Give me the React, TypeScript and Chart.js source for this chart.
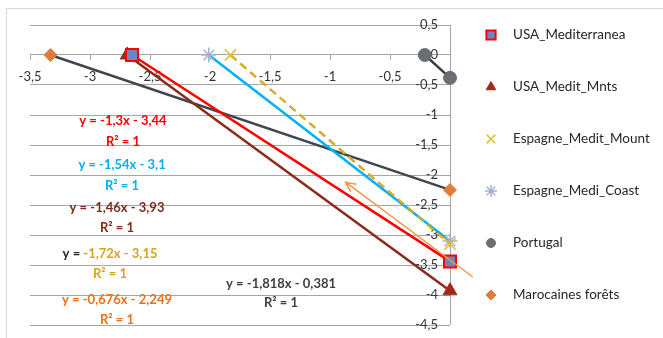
import React, { useEffect, useRef } from 'react';
import { Chart, registerables } from 'chart.js';
import { drawPoint } from 'chart.js/helpers';

Chart.register(...registerables);

// ---- data ----
const SERIES_NAMES = [
  'USA_Mediterranea',
  'USA_Medit_Mnts',
  'Espagne_Medit_Mount',
  'Espagne_Medi_Coast',
  'Portugal',
  'Marocaines forêts',
];
const USA_MED_X = [-2.65, 0];
const USA_MED_Y = [0, -3.44];
const USA_MNTS_X = [-2.69, 0];
const USA_MNTS_Y = [0, -3.93];
const ESP_MOUNT_X = [-1.83, 0];
const ESP_MOUNT_Y = [0, -3.15];
const ESP_COAST_X = [-2.01, 0];
const ESP_COAST_Y = [0, -3.1];
const PORTUGAL_X = [-0.21, 0];
const PORTUGAL_Y = [0, -0.381];
const MAROC_X = [-3.33, 0];
const MAROC_Y = [0, -2.249];

const X_TICK_LABELS = ['-3,5', '-3', '-2,5', '-2', '-1,5', '-1', '-0,5', '0'];
const Y_TICK_LABELS = ['-4,5', '-4', '-3,5', '-3', '-2,5', '-2', '-1,5', '-1', '-0,5', '0', '0,5'];

const EQUATIONS = [
  'y = -1,3x - 3,44',
  'y = -1,54x - 3,1',
  'y = -1,46x - 3,93',
  'y = -1,72x - 3,15',
  'y = -0,676x - 2,249',
  'y = -1,818x - 0,381',
];
const R2_TEXT = 'R² = 1';

// ---- annotation layout (data units) ----
const EQ_POS_X = [-2.725, -2.733, -2.775, -2.833, -2.775, -1.408];
const EQ_POS_Y = [-1.1, -1.833, -2.55, -3.317, -4.083, -3.817];
const R2_POS_Y = [-1.45, -2.183, -2.883, -3.65, -4.417, -4.133];
const EQ_COLORS = ['#ff0000', '#00b0f0', '#7f2a1a', '#d4a520', '#e9711c', '#404040'];
const ARROW_FROM = [0.19, -3.7];
const ARROW_TO = [-0.87, -2.12];
const Y_LABEL_ANCHOR = -0.1; // y tick labels end a little left of the x=0 axis line

const pts = (xs: number[], ys: number[]) => xs.map((x, i) => ({ x, y: ys[i] }));

const STYLES = [
  { line: '#ff0000', ps: 'rect', r: 8.5, lr: 6.5, bg: '#6f84c2', bd: '#ff0000', bw: 2, dash: [] as number[] },
  { line: '#8b2a18', ps: 'triangle', r: 8, lr: 5.5, bg: '#a3281a', bd: '#a3281a', bw: 1, dash: [] },
  { line: '#d4ac2a', ps: 'crossRot', r: 8, lr: 6, bg: '#e2b92f', bd: '#e2b92f', bw: 1.5, dash: [8, 5] },
  { line: '#00b0f0', ps: 'star', r: 7.5, lr: 6, bg: '#a4b2cf', bd: '#a4b2cf', bw: 1.5, dash: [] },
  { line: '#404040', ps: 'circle', r: 6.5, lr: 4.5, bg: '#6b6f75', bd: '#6b6f75', bw: 1, dash: [] },
  { line: '#3f4651', ps: 'rectRot', r: 6.5, lr: 5, bg: '#e07b39', bd: '#e07b39', bw: 1, dash: [] },
];

const SERIES = [
  pts(USA_MED_X, USA_MED_Y),
  pts(USA_MNTS_X, USA_MNTS_Y),
  pts(ESP_MOUNT_X, ESP_MOUNT_Y),
  pts(ESP_COAST_X, ESP_COAST_Y),
  pts(PORTUGAL_X, PORTUGAL_Y),
  pts(MAROC_X, MAROC_Y),
];

const FONT = 'Lato, "Open Sans", sans-serif';
const GRID = '#a6a6a6';

const framePlugin = {
  id: 'frame',
  beforeDraw(chart: any) {
    const ctx = chart.ctx;
    ctx.save();
    ctx.strokeStyle = '#d4d4d4';
    ctx.lineWidth = 1;
    ctx.beginPath();
    ctx.moveTo(6.5, chart.height);
    ctx.lineTo(6.5, 8.5);
    ctx.lineTo(chart.width, 8.5);
    ctx.stroke();
    ctx.restore();
  },
};

const annotPlugin = {
  id: 'annot',
  afterDatasetsDraw(chart: any) {
    const ctx = chart.ctx;
    const xs = chart.scales.x;
    const ys = chart.scales.y;
    ctx.save();
    // arrow
    const x1 = xs.getPixelForValue(ARROW_FROM[0]);
    const y1 = ys.getPixelForValue(ARROW_FROM[1]);
    const x2 = xs.getPixelForValue(ARROW_TO[0]);
    const y2 = ys.getPixelForValue(ARROW_TO[1]);
    ctx.strokeStyle = '#f79646';
    ctx.lineWidth = 1.5;
    ctx.beginPath();
    ctx.moveTo(x1, y1);
    ctx.lineTo(x2, y2);
    const ang = Math.atan2(y1 - y2, x1 - x2);
    const hl = 11;
    ctx.moveTo(x2 + hl * Math.cos(ang + 0.45), y2 + hl * Math.sin(ang + 0.45));
    ctx.lineTo(x2, y2);
    ctx.lineTo(x2 + hl * Math.cos(ang - 0.45), y2 + hl * Math.sin(ang - 0.45));
    ctx.stroke();

    // equations
    ctx.font = 'bold 13px ' + FONT;
    ctx.textBaseline = 'middle';
    EQUATIONS.forEach((eq, i) => {
      const cx = xs.getPixelForValue(EQ_POS_X[i]);
      const cy = ys.getPixelForValue(EQ_POS_Y[i]);
      const ry = ys.getPixelForValue(R2_POS_Y[i]);
      if (i === 3) {
        const w = ctx.measureText(eq).width;
        const head = 'y = ';
        const left = cx - w / 2;
        ctx.textAlign = 'left';
        ctx.fillStyle = '#262626';
        ctx.fillText(head, left, cy);
        ctx.fillStyle = EQ_COLORS[i];
        ctx.fillText(eq.slice(head.length), left + ctx.measureText(head).width, cy);
      } else {
        ctx.textAlign = 'center';
        ctx.fillStyle = EQ_COLORS[i];
        ctx.fillText(eq, cx, cy);
      }
      ctx.textAlign = 'center';
      ctx.fillStyle = EQ_COLORS[i];
      ctx.fillText(R2_TEXT, cx, ry);
    });
    ctx.restore();
  },
  afterDraw(chart: any) {
    // legend
    const ctx = chart.ctx;
    ctx.save();
    const left = chart.chartArea.right + 41;
    const top = chart.chartArea.top + 10;
    const step = 52;
    chart.data.datasets.forEach((ds: any, i: number) => {
      const y = top + i * step;
      const st = STYLES[i];
      ctx.fillStyle = st.bg;
      ctx.strokeStyle = st.bd;
      ctx.lineWidth = st.bw;
      drawPoint(ctx, { pointStyle: st.ps, radius: st.lr, borderWidth: st.bw, rotation: 0 } as any, left, y);
      ctx.fillStyle = '#262626';
      ctx.font = '13.5px ' + FONT;
      ctx.textAlign = 'left';
      ctx.textBaseline = 'middle';
      ctx.fillText(ds.label, left + 22, y);
    });
    ctx.restore();
  },
};

export default function App() {
  const ref = useRef<HTMLCanvasElement | null>(null);
  useEffect(() => {
    if (!ref.current) return;
    const chart = new Chart(ref.current, {
      type: 'scatter',
      data: {
        datasets: SERIES.map((data, i) => ({
          label: SERIES_NAMES[i],
          data,
          showLine: true,
          borderColor: STYLES[i].line,
          borderWidth: 2.5,
          borderDash: STYLES[i].dash,
          pointStyle: STYLES[i].ps as any,
          pointRadius: STYLES[i].r,
          pointBackgroundColor: STYLES[i].bg,
          pointBorderColor: STYLES[i].bd,
          pointBorderWidth: STYLES[i].bw,
          clip: false as any,
        })),
      },
      options: {
        animation: false,
        responsive: false,
        devicePixelRatio: 1,
        layout: { padding: { left: 30, top: 25, right: 213, bottom: 13 } },
        plugins: { legend: { display: false }, tooltip: { enabled: false } },
        scales: {
          x: {
            type: 'linear',
            min: -3.5,
            max: 0,
            position: { y: 0 } as any,
            ticks: {
              stepSize: 0.5,
              padding: 9,
              color: '#333',
              font: { family: FONT, size: 13 },
              callback: (_v: any, i: number) => X_TICK_LABELS[i],
            },
            grid: {
              drawOnChartArea: true,
              drawTicks: true,
              tickLength: 5,
              color: (c: any) => (c.tick && c.tick.value === 0 ? GRID : 'rgba(0,0,0,0)'),
              tickColor: GRID,
            },
            border: { display: true, color: GRID },
          },
          y: {
            type: 'linear',
            min: -4.5,
            max: 0.5,
            position: { x: Y_LABEL_ANCHOR } as any,
            ticks: {
              stepSize: 0.5,
              color: '#333',
              font: { family: FONT, size: 13 },
              callback: (_v: any, i: number) => Y_TICK_LABELS[i],
            },
            grid: { drawTicks: false, color: GRID },
            border: { display: false },
          },
        },
      },
      plugins: [framePlugin, annotPlugin],
    });
    return () => chart.destroy();
  }, []);
  return (
    <div style={{ position: 'fixed', left: 0, top: 0, width: 663, height: 338, background: '#fff' }}>
      <canvas ref={ref} width={663} height={338} style={{ display: 'block' }} />
    </div>
  );
}
